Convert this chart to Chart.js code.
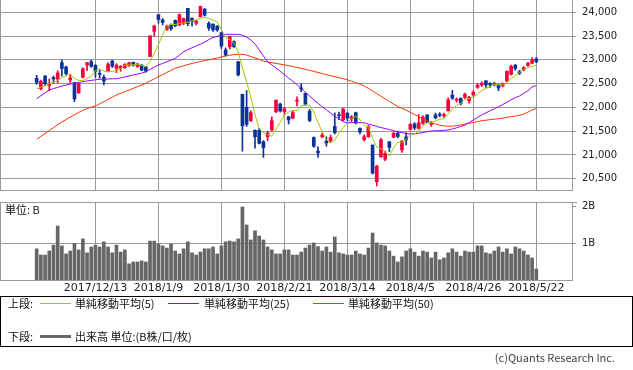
<!DOCTYPE html>
<html><head><meta charset="utf-8">
<script src="https://cdn.jsdelivr.net/npm/chart.js@4.4.1/dist/chart.umd.min.js"></script>
<style>
html,body{margin:0;padding:0;background:#fff;}
body{width:633px;height:370px;position:relative;overflow:hidden;font-family:"Noto Sans CJK JP","DejaVu Sans",sans-serif;color:#111;}
canvas{position:absolute;left:0;}
#c1{top:0;}
#c2{top:190px;}
.t{position:absolute;font-size:11px;line-height:13px;white-space:nowrap;}
.ln{position:absolute;height:1px;width:31px;}
#box{position:absolute;left:0;top:296px;width:631px;height:49px;border:1px solid #000;}
</style></head>
<body>
<canvas id="c1" width="633" height="191"></canvas>
<canvas id="c2" width="633" height="106"></canvas>
<div class="t" style="left:5px;top:203px;">単位: B</div>
<div id="box"></div>
<div class="t" style="left:8px;top:297px;">上段:</div>
<div class="ln" style="left:40px;top:303px;background:#99cc00;"></div>
<div class="t" style="left:75px;top:297px;">単純移動平均(5)</div>
<div class="ln" style="left:168px;top:303px;background:#9900ff;"></div>
<div class="t" style="left:204px;top:297px;">単純移動平均(25)</div>
<div class="ln" style="left:313px;top:303px;background:#ff3300;"></div>
<div class="t" style="left:348px;top:297px;">単純移動平均(50)</div>
<div class="t" style="left:8px;top:330px;">下段:</div>
<div class="ln" style="left:40px;top:335px;height:3px;background:#666;"></div>
<div class="t" style="left:75px;top:330px;">出来高 単位:(B株/口/枚)</div>
<div class="t" style="right:18px;top:351px;color:#444;">(c)Quants Research Inc.</div>
<script>
const dates = ['2017/11/22','2017/11/24','2017/11/27','2017/11/28','2017/11/29','2017/11/30','2017/12/1','2017/12/4','2017/12/5','2017/12/6',
'2017/12/7','2017/12/8','2017/12/11','2017/12/12','2017/12/13','2017/12/14','2017/12/15','2017/12/18','2017/12/19','2017/12/20',
'2017/12/21','2017/12/22','2017/12/25','2017/12/26','2017/12/27','2017/12/28','2017/12/29','2018/1/4','2018/1/5','2018/1/9',
'2018/1/10','2018/1/11','2018/1/12','2018/1/15','2018/1/16','2018/1/17','2018/1/18','2018/1/19','2018/1/22','2018/1/23',
'2018/1/24','2018/1/25','2018/1/26','2018/1/29','2018/1/30','2018/1/31','2018/2/1','2018/2/2','2018/2/5','2018/2/6',
'2018/2/7','2018/2/8','2018/2/9','2018/2/13','2018/2/14','2018/2/15','2018/2/16','2018/2/19','2018/2/20','2018/2/21',
'2018/2/22','2018/2/23','2018/2/26','2018/2/27','2018/2/28','2018/3/1','2018/3/2','2018/3/5','2018/3/6','2018/3/7',
'2018/3/8','2018/3/9','2018/3/12','2018/3/13','2018/3/14','2018/3/15','2018/3/16','2018/3/19','2018/3/20','2018/3/22',
'2018/3/23','2018/3/26','2018/3/27','2018/3/28','2018/3/29','2018/3/30','2018/4/2','2018/4/3','2018/4/4','2018/4/5',
'2018/4/6','2018/4/9','2018/4/10','2018/4/11','2018/4/12','2018/4/13','2018/4/16','2018/4/17','2018/4/18','2018/4/19',
'2018/4/20','2018/4/23','2018/4/24','2018/4/25','2018/4/26','2018/4/27','2018/5/1','2018/5/2','2018/5/7','2018/5/8',
'2018/5/9','2018/5/10','2018/5/11','2018/5/14','2018/5/15','2018/5/16','2018/5/17','2018/5/18','2018/5/21','2018/5/22'];

const open = [22612,22390,22660,22460,22625,22596,22940,22850,22575,22520,
22309,22632,22890,22961,22885,22710,22632,22766,22975,22822,
22830,22835,22880,22948,22860,22891,22850,23073,23600,23949,
23838,23640,23733,23830,23733,23770,24084,23870,23770,23907,
24068,23768,23750,23710,23571,23207,23277,23381,22961,22275,
22000,21720,21518,21518,21278,21383,21524,21909,22069,21909,
21804,21770,22130,22400,22296,21920,21366,21080,21383,21290,
21300,21600,21840,21740,21880,21760,21888,21560,21320,21383,
21208,20437,20962,20908,21278,21370,21460,21104,21380,21539,
21650,21560,21665,21840,21640,21840,21850,21820,21930,22260,
22150,22191,22212,22140,22260,22422,22470,22560,22500,22470,
22471,22450,22555,22696,22891,22750,22790,22880,22927,23020];

const high = [22675,22575,22670,22600,22660,22770,22995,22870,22700,22530,
22520,22830,22950,22990,22900,22785,22680,22940,22990,22920,
22880,22920,22950,22955,22930,22900,22860,23506,23730,23952,
23870,23730,23760,23840,23964,23880,24084,23890,23830,24130,
24080,23800,23760,23720,23580,23250,23500,23400,22970,22280,
22353,21930,21530,21560,21300,21500,21800,22160,22090,22000,
21810,21920,22220,22500,22300,21960,21380,21170,21460,21380,
21420,21884,21900,21980,21890,21830,21900,21570,21420,21620,
21210,20780,21350,21080,21280,21480,21500,21300,21470,21660,
21680,21850,21830,21850,21700,21880,21890,21880,22200,22360,
22200,22200,22300,22230,22350,22500,22540,22560,22520,22530,
22480,22510,22770,22890,22900,22780,22860,22950,23050,23050];

const low = [22485,22365,22460,22350,22510,22520,22660,22680,22520,22120,
22290,22620,22772,22840,22632,22612,22470,22745,22840,22730,
22760,22820,22860,22870,22840,22770,22740,23065,23500,23770,
23733,23620,23620,23700,23720,23740,23720,23710,23733,23900,
23920,23620,23600,23600,23240,23080,23230,23260,22660,21078,
21600,21700,21140,21230,20950,21300,21500,21890,21900,21850,
21650,21760,22030,22330,22050,21700,21160,20950,21360,21180,
21260,21440,21740,21720,21720,21700,21650,21440,21290,21370,
20600,20347,20950,20880,21070,21360,21360,21050,21210,21520,
21530,21540,21640,21680,21600,21760,21800,21790,21920,22170,
22110,22050,22190,22090,22240,22400,22440,22420,22420,22450,
22350,22430,22540,22680,22780,22690,22770,22860,22920,22940];

const close = [22523,22550,22495,22486,22597,22724,22819,22707,22622,22177,
22498,22811,22938,22866,22758,22694,22553,22901,22868,22891,
22866,22902,22939,22892,22911,22783,22764,23506,23714,23849,
23788,23710,23653,23714,23951,23868,23763,23808,23816,24124,
23940,23669,23631,23629,23291,23098,23486,23274,22682,21610,
21645,21890,21382,21244,21154,21464,21720,22149,21925,21970,
21736,21892,22153,22389,22068,21724,21181,21042,21417,21252,
21368,21469,21824,21968,21777,21803,21676,21480,21380,21591,
20617,20766,21317,21031,21159,21454,21388,21292,21319,21645,
21567,21678,21794,21687,21660,21778,21835,21847,22158,22191,
22162,22088,22278,22215,22319,22467,22508,22472,22467,22508,
22408,22497,22758,22865,22818,22717,22838,22930,23002,22960];

const ma5 = [22390,22429,22449,22494,22530,22570,22624,22667,22694,22610,
22565,22563,22609,22658,22774,22813,22762,22754,22755,22781,
22816,22886,22893,22898,22902,22885,22858,22971,23136,23323,
23524,23713,23743,23743,23763,23779,23790,23821,23841,23876,
23890,23871,23836,23799,23632,23464,23427,23356,23166,22830,
22539,22220,21842,21554,21463,21427,21393,21546,21682,21846,
21900,21934,21935,22028,22048,22045,21903,21681,21486,21323,
21252,21310,21466,21576,21681,21768,21810,21741,21623,21586,
21349,21167,21134,21064,20978,21145,21270,21265,21322,21420,
21442,21500,21601,21674,21677,21719,21751,21761,21856,21962,
22039,22089,22175,22187,22212,22273,22357,22396,22447,22484,
22473,22470,22528,22607,22669,22731,22799,22834,22861,22889];

const ma25 = [22183,22245,22305,22366,22395,22420,22448,22471,22490,22508,
22525,22540,22555,22568,22580,22591,22595,22598,22601,22603,
22620,22640,22660,22681,22700,22720,22751,22800,22848,22891,
22925,22960,22995,23032,23100,23171,23215,23255,23295,23329,
23375,23425,23470,23495,23515,23537,23537,23537,23537,23520,
23480,23420,23330,23210,23080,22960,22895,22825,22760,22690,
22620,22550,22480,22400,22320,22240,22160,22085,22015,21945,
21880,21815,21760,21700,21675,21678,21678,21678,21678,21650,
21625,21600,21575,21555,21535,21510,21488,21470,21450,21440,
21445,21455,21470,21490,21503,21508,21513,21518,21524,21545,
21570,21600,21629,21680,21735,21790,21840,21885,21930,21972,
22014,22060,22110,22160,22204,22240,22296,22350,22430,22460];

const ma50 = [21329,21390,21450,21515,21575,21635,21690,21745,21795,21845,
21895,21940,21975,22005,22030,22075,22120,22170,22215,22260,
22295,22330,22365,22400,22435,22470,22505,22555,22600,22645,
22690,22735,22780,22822,22850,22875,22900,22925,22945,22965,
22985,23000,23020,23040,23060,23080,23100,23110,23117,23117,
23100,23070,23040,23010,22975,22955,22940,22925,22910,22895,
22880,22860,22840,22820,22800,22780,22755,22735,22710,22690,
22665,22645,22625,22605,22580,22550,22520,22490,22450,22400,
22345,22290,22235,22180,22125,22070,22020,21980,21940,21895,
21850,21805,21760,21715,21680,21650,21625,21610,21605,21605,
21615,21630,21650,21665,21685,21700,21720,21730,21742,21752,
21762,21775,21790,21805,21820,21835,21860,21900,21945,21975];

const volume = [0.85,0.68,0.68,0.79,0.95,1.47,0.93,0.71,0.79,1.00,
0.82,1.12,0.74,0.90,0.95,0.90,1.04,0.90,0.74,0.95,
0.76,0.82,0.44,0.49,0.49,0.52,0.49,1.06,1.06,0.98,
0.93,0.87,0.98,0.79,0.71,0.85,1.04,0.74,0.68,0.76,
0.85,0.85,0.90,0.71,0.93,1.04,1.06,1.04,1.12,1.99,
1.50,1.09,1.34,1.20,1.09,0.90,0.82,0.71,0.71,0.82,
0.82,0.68,0.68,0.76,0.87,0.95,1.01,0.91,0.79,0.90,
0.76,1.17,0.74,0.71,0.68,0.68,0.79,0.71,0.68,0.87,
1.28,1.01,0.95,0.93,0.79,0.65,0.49,0.63,0.79,0.85,
0.76,0.65,0.79,0.76,0.60,0.76,0.55,0.60,0.74,0.85,
0.76,0.65,0.79,0.76,0.76,0.93,0.93,0.74,0.71,0.79,
0.90,0.76,0.85,0.71,0.90,0.85,0.79,0.68,0.60,0.30];

const priceTicks = [20500,21000,21500,22000,22500,23000,23500,24000];
const volumeTicks = [1,2];
const tickDates = ['2017/12/13','2018/1/9','2018/1/30','2018/2/21','2018/3/14','2018/4/5','2018/4/26','2018/5/22'];

const idx = dates.map((d, i) => i);
const tickIdx = tickDates.map(d => dates.indexOf(d));
const RED = '#f5003d', BLUE = '#0a3399', GRID = '#999999';
const candleColor = idx.map(i => close[i] >= open[i] ? RED : BLUE);
const fmt = v => String(v).replace(/\B(?=(\d{3})+(?!\d))/g, ',');

const framePlugin = {
  id: 'frame',
  beforeDatasetsDraw(chart, args, opts) {
    const {ctx, chartArea: a} = chart;
    ctx.save();
    ctx.strokeStyle = GRID; ctx.lineWidth = 1;
    ctx.beginPath();
    ctx.moveTo(0.5, a.top); ctx.lineTo(0.5, a.bottom + 1);
    if (opts.top) { ctx.moveTo(0, a.top + 0.5); ctx.lineTo(a.right + 5, a.top + 0.5); }
    ctx.stroke();
    ctx.restore();
  }
};

function xAxis(showLabels) {
  return {
    type: 'linear', min: -8.5, max: 127.5, offset: false,
    afterBuildTicks: s => { s.ticks = tickIdx.map(v => ({value: v})); },
    grid: {color: GRID, offset: false, drawTicks: false},
    border: {color: GRID},
    ticks: {display: showLabels, autoSkip: false, maxRotation: 0, minRotation: 0, padding: 2,
      color: '#222', font: {family: 'DejaVu Sans', size: 11}, callback: v => dates[v]},
    afterFit: s => { s.height = showLabels ? 16 : 0; s.paddingLeft = 0; s.paddingRight = 0; }
  };
}

const common = {
  responsive: false, animation: false, devicePixelRatio: 1, events: [],
  plugins: {legend: {display: false}, tooltip: {enabled: false}}
};

new Chart(document.getElementById('c1'), {
  type: 'bar',
  data: {
    datasets: [
      {type: 'line', order: 0, data: idx.map(i => ({x: i, y: ma5[i]})), borderColor: '#99cc00', borderWidth: 1, pointRadius: 0, tension: 0},
      {type: 'line', order: 0, data: idx.map(i => ({x: i, y: ma25[i]})), borderColor: '#9900ff', borderWidth: 1, pointRadius: 0, tension: 0},
      {type: 'line', order: 0, data: idx.map(i => ({x: i, y: ma50[i]})), borderColor: '#ff3300', borderWidth: 1, pointRadius: 0, tension: 0},
      {type: 'bar', order: 1, data: idx.map(i => ({x: i, y: [open[i], close[i]]})), backgroundColor: candleColor, barThickness: 3, grouped: false, minBarLength: 1},
      {type: 'bar', order: 2, data: idx.map(i => ({x: i, y: [low[i], high[i]]})), backgroundColor: candleColor, barThickness: 1, grouped: false, minBarLength: 1}
    ]
  },
  options: Object.assign({}, common, {
    layout: {padding: {left: 1, right: 0, top: 0, bottom: 1}},
    scales: {
      x: xAxis(false),
      y: {
        type: 'linear', position: 'right', min: 20262, max: 24259, beginAtZero: false,
        afterBuildTicks: s => { s.ticks = priceTicks.map(v => ({value: v})); },
        grid: {color: GRID, tickColor: GRID, tickLength: 4},
        border: {color: GRID},
        ticks: {padding: 6, color: '#222', font: {family: 'DejaVu Sans', size: 10}, callback: v => fmt(v)},
        afterFit: s => { s.width = 61; s.paddingTop = 0; s.paddingBottom = 0; }
      }
    },
    plugins: Object.assign({}, common.plugins, {frame: {top: false}})
  }),
  plugins: [framePlugin]
});

new Chart(document.getElementById('c2'), {
  type: 'bar',
  data: {
    datasets: [
      {data: idx.map(i => ({x: i, y: volume[i]})), backgroundColor: '#666666', barThickness: 3, grouped: false}
    ]
  },
  options: Object.assign({}, common, {
    layout: {padding: {left: 1, right: 0, top: 12, bottom: 0}},
    scales: {
      x: xAxis(true),
      y: {
        type: 'linear', position: 'right', min: 0, max: 2.125,
        afterBuildTicks: s => { s.ticks = volumeTicks.map(v => ({value: v})); },
        grid: {color: c => (c.tick && c.tick.value === 2) ? 'rgba(0,0,0,0)' : GRID, tickColor: GRID, tickLength: 4},
        border: {color: GRID},
        ticks: {padding: 6, color: '#222', font: {family: 'DejaVu Sans', size: 10}, callback: v => v + 'B'},
        afterFit: s => { s.width = 61; s.paddingTop = 0; s.paddingBottom = 0; }
      }
    },
    plugins: Object.assign({}, common.plugins, {frame: {top: true}})
  }),
  plugins: [framePlugin]
});
</script>
</body></html>
